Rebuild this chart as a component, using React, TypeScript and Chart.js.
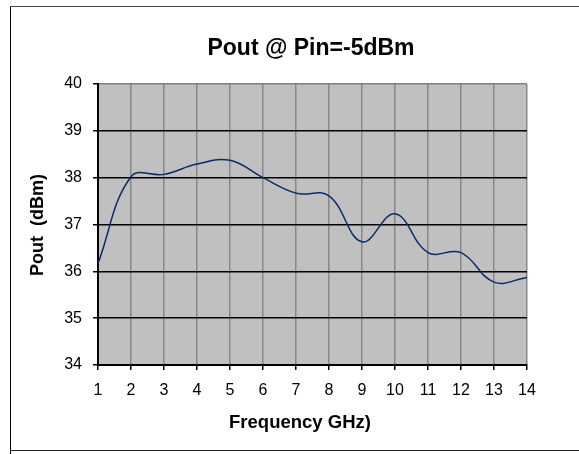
import React, { useEffect, useRef } from "react";
import { Chart, registerables } from "chart.js";

Chart.register(...registerables);

const TITLE = "Pout @ Pin=-5dBm";
const X_TITLE = "Frequency GHz)";
const Y_TITLE = "Pout  (dBm)";
const freqGHz = [1, 2, 3, 4, 5, 6, 7, 8, 9, 10, 11, 12, 13, 14];
const poutDbm = [36.17, 38.02, 38.07, 38.29, 38.37, 38.0, 37.67, 37.61, 36.63, 37.23, 36.4, 36.4, 35.77, 35.87];
const yMin = 34;
const yMax = 40;

const FONT = "'Liberation Sans', Arial, sans-serif";

const decor = {
  id: "decor",
  beforeDraw(chart: any) {
    const { ctx, chartArea } = chart;
    ctx.save();
    ctx.fillStyle = "#ffffff";
    ctx.fillRect(0, 0, chart.width, chart.height);
    ctx.fillStyle = "#C0C0C0";
    ctx.fillRect(chartArea.left, chartArea.top, chartArea.right - chartArea.left, chartArea.bottom - chartArea.top);
    ctx.restore();
  },
  afterDraw(chart: any) {
    const { ctx } = chart;
    ctx.save();
    // outer frame
    ctx.strokeStyle = "#000000";
    ctx.lineWidth = 1;
    ctx.beginPath();
    ctx.moveTo(10.5, 460);
    ctx.lineTo(10.5, 6.5);
    ctx.stroke();
    ctx.strokeStyle = "#444444";
    ctx.beginPath();
    ctx.moveTo(10, 6.5);
    ctx.lineTo(600, 6.5);
    ctx.stroke();
    ctx.strokeStyle = "#222222";
    ctx.beginPath();
    ctx.moveTo(10, 450.5);
    ctx.lineTo(600, 450.5);
    ctx.stroke();
    ctx.fillStyle = "#000000";
    ctx.textAlign = "center";
    ctx.textBaseline = "alphabetic";
    ctx.font = `bold 23px ${FONT}`;
    ctx.fillText(TITLE, 311, 55);
    ctx.font = `bold 18.5px ${FONT}`;
    ctx.fillText(X_TITLE, 300, 428);
    ctx.font = `bold 18px ${FONT}`;
    ctx.translate(43, 225);
    ctx.rotate(-Math.PI / 2);
    ctx.fillText(Y_TITLE, 0, 0);
    ctx.restore();
  },
};

export default function App() {
  const ref = useRef<HTMLCanvasElement>(null);
  useEffect(() => {
    const canvas = ref.current!;
    const chart = new Chart(canvas, {
      type: "line",
      data: {
        datasets: [
          {
            data: freqGHz.map((x, i) => ({ x, y: poutDbm[i] })),
            borderColor: "#0B2A6B",
            borderWidth: 1.5,
            pointRadius: 0,
            tension: 0.4,
            fill: false,
          },
        ],
      },
      options: {
        animation: false,
        responsive: false,
        devicePixelRatio: 1,
        layout: { padding: { left: 0, top: 84, right: 52, bottom: 0 } },
        plugins: { legend: { display: false }, title: { display: false }, tooltip: { enabled: false } },
        scales: {
          x: {
            type: "linear",
            min: 1,
            max: 14,
            afterFit: (s: any) => {
              s.height = 89;
            },
            ticks: {
              stepSize: 1,
              color: "#000",
              padding: 11,
              maxRotation: 0,
              font: { family: FONT, size: 16 },
            },
            grid: {
              color: "#888888",
              lineWidth: 1.5,
              tickLength: 5,
              tickColor: "#000",
            },
            border: { color: "#000", width: 2 },
          },
          y: {
            min: yMin,
            max: yMax,
            afterFit: (s: any) => {
              s.width = 98;
            },
            ticks: {
              stepSize: 1,
              color: "#000",
              padding: 11,
              font: { family: FONT, size: 16 },
            },
            grid: {
              color: (c: any) => (c.tick && c.tick.value === yMax ? "#808080" : "#000"),
              lineWidth: 1.5,
              tickLength: 5,
              tickColor: "#000",
            },
            border: { color: "#000", width: 2 },
          },
        },
      },
      plugins: [decor],
    });
    return () => chart.destroy();
  }, []);
  return (
    <div style={{ position: "absolute", left: 0, top: 0, width: 579, height: 454 }}>
      <canvas ref={ref} width={579} height={454} style={{ width: 579, height: 454, display: "block" }} />
    </div>
  );
}
